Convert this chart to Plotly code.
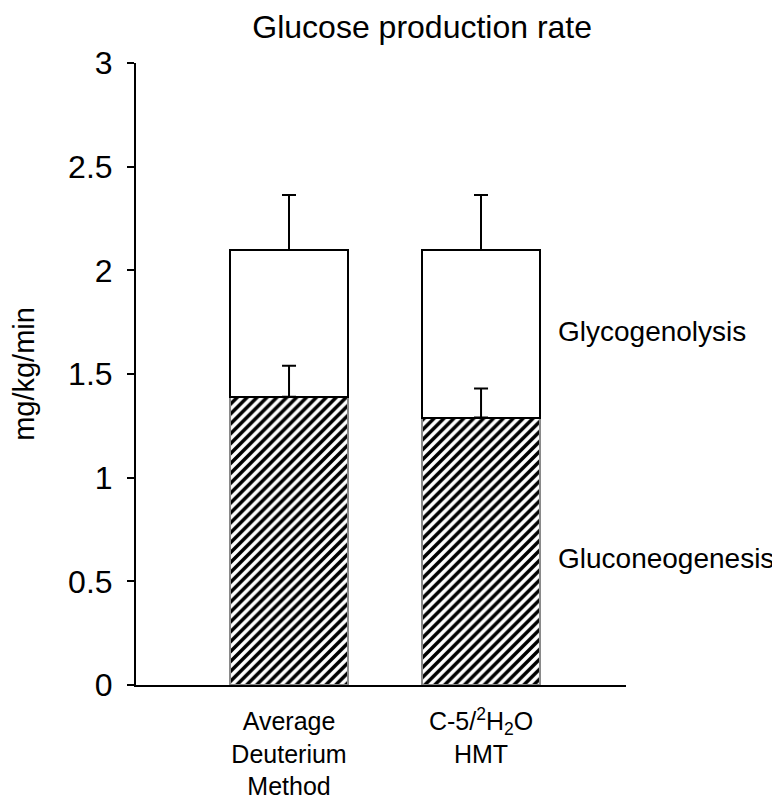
import plotly.graph_objects as go

categories = ["Average<br>Deuterium<br>Method", "C-5/<sup>2</sup>H<sub>2</sub>O<br>HMT"]
x_pos = [0, 1]
gluconeogenesis = [1.39, 1.29]
gluconeogenesis_err = [0.15, 0.14]
glycogenolysis = [0.71, 0.81]
glycogenolysis_err = [0.265, 0.265]
y_ticks = [0, 0.5, 1, 1.5, 2, 2.5, 3]
y_ticktext = ["0", "0.5", "1", "1.5", "2", "2.5", "3"]

FONT = "Liberation Sans, Arial, Helvetica, sans-serif"

fig = go.Figure()
fig.add_trace(go.Bar(
    x=x_pos, y=gluconeogenesis, width=0.615,
    marker=dict(color="white", line=dict(color="#8a8a8a", width=2),
                pattern=dict(shape="/", fgcolor="black", bgcolor="white",
                             fgopacity=1, size=7, solidity=0.5)),
    showlegend=False,
))
fig.add_trace(go.Bar(
    x=x_pos, y=glycogenolysis, width=0.615,
    marker=dict(color="white", line=dict(color="black", width=2)),
    error_y=dict(type="data", symmetric=False, array=glycogenolysis_err,
                 arrayminus=[0, 0], color="black", thickness=2, width=7),
    showlegend=False,
))
# error bars of the lower segment, drawn above the upper (white) segment
fig.add_trace(go.Scatter(
    x=x_pos, y=gluconeogenesis, mode="markers",
    marker=dict(size=1, opacity=0),
    error_y=dict(type="data", symmetric=False, array=gluconeogenesis_err,
                 arrayminus=[0, 0], color="black", thickness=2, width=7),
    showlegend=False, hoverinfo="skip",
))

fig.update_layout(
    barmode="stack",
    width=780, height=800,
    margin=dict(l=128, r=162, t=55, b=123),
    paper_bgcolor="white", plot_bgcolor="white",
    font=dict(family=FONT, color="black", size=28),
    title=dict(text="Glucose production rate", x=0.531, xref="container", xanchor="center",
               y=0.976, yref="container", yanchor="middle",
               font=dict(size=32, family=FONT, color="black")),
    xaxis=dict(range=[-0.797, 1.755], tickvals=x_pos, ticktext=categories,
               showline=True, linecolor="black", linewidth=2, ticks="",
               showgrid=False, zeroline=False, tickfont=dict(size=25),
               ticklabelstandoff=13, automargin=False),
    yaxis=dict(range=[0, 3], tickvals=y_ticks, ticktext=y_ticktext,
               showline=True, linecolor="black", linewidth=2,
               ticks="outside", ticklen=7, tickwidth=2, tickcolor="black",
               showgrid=False, zeroline=False, tickfont=dict(size=32),
               ticklabelstandoff=8, automargin=False,
               title=dict(text="mg/kg/min", font=dict(size=29), standoff=27)),
    annotations=[
        dict(x=1.39, y=1.707, xref="x", yref="y", text="Glycogenolysis", showarrow=False,
             xanchor="left", yanchor="middle", font=dict(size=28, family=FONT, color="black")),
        dict(x=1.39, y=0.608, xref="x", yref="y", text="Gluconeogenesis", showarrow=False,
             xanchor="left", yanchor="middle", font=dict(size=28, family=FONT, color="black")),
    ],
)

fig.write_html("out.html")
